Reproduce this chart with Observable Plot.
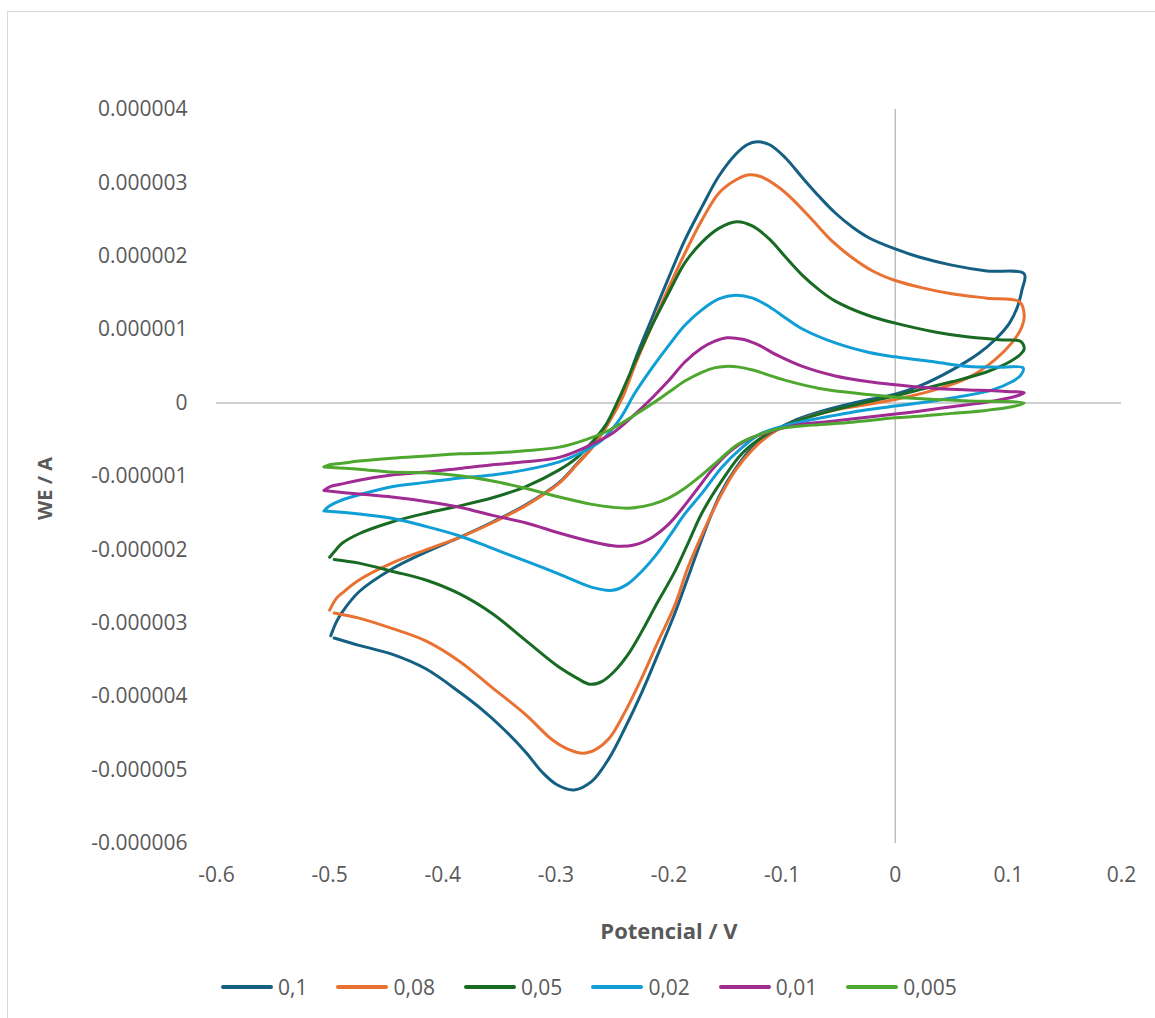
<!DOCTYPE html>
<html><head><meta charset="utf-8">
<script src="https://cdn.jsdelivr.net/npm/d3@7"></script>
<script src="https://cdn.jsdelivr.net/npm/@observablehq/plot@0.6"></script>
<style>
body{margin:0;background:#fff;}
#wrap{position:relative;width:1155px;height:1018px;overflow:hidden;font-family:"Open Sans",sans-serif;background:#fff;}
#frame{position:absolute;left:7px;top:11px;width:1200px;height:1100px;border-left:1px solid #d9d9d9;border-top:1px solid #d9d9d9;}
#chart{position:absolute;left:0;top:0;}
#legend{position:absolute;top:974px;left:221px;display:flex;align-items:center;font-size:21px;color:#595959;height:26px;white-space:nowrap;}
.item{display:flex;align-items:center;margin-right:29px;}
.sw{display:inline-block;width:52px;height:4px;border-radius:2px;margin-right:5px;}
</style>
</head><body>
<div id="wrap"><div id="frame"></div><div id="chart"></div><div id="legend"></div></div>
<script>
// Scan-rate series (V/s) and colours
const seriesNames = ["0,1","0,08","0,05","0,02","0,01","0,005"];
const seriesColors = ["#156082","#E97132","#196B24","#0F9ED5","#A02B93","#4EA72E"];
const xTicks = [-0.6,-0.5,-0.4,-0.3,-0.2,-0.1,0,0.1,0.2];
const yTicks = [-6,-5,-4,-3,-2,-1,0,1,2,3,4]; // in microamps
const yTickLabels = ["-0.000006","-0.000005","-0.000004","-0.000003","-0.000002","-0.000001","0","0.000001","0.000002","0.000003","0.000004"];
const xTickLabels = ["-0.6","-0.5","-0.4","-0.3","-0.2","-0.1","0","0.1","0.2"];

// Each loop: [potential V, current µA]
const loop_0_1 = [[-0.499,-3.17],[-0.494,-2.98],[-0.489,-2.85],[-0.474,-2.57],[-0.445,-2.26],[-0.415,-2.03],[-0.385,-1.83],[-0.356,-1.62],[-0.327,-1.39],[-0.297,-1.08],[-0.281,-0.82],[-0.268,-0.60],[-0.255,-0.30],[-0.241,0.11],[-0.230,0.59],[-0.215,1.16],[-0.200,1.72],[-0.186,2.22],[-0.171,2.67],[-0.156,3.09],[-0.141,3.39],[-0.131,3.52],[-0.122,3.56],[-0.111,3.52],[-0.097,3.34],[-0.082,3.07],[-0.067,2.81],[-0.053,2.59],[-0.038,2.40],[-0.023,2.25],[0,2.10],[0.021,1.99],[0.050,1.88],[0.081,1.80],[0.114,1.76],[0.112,1.54],[0.108,1.31],[0.101,1.09],[0.088,0.86],[0.074,0.68],[0.050,0.45],[0.021,0.23],[0,0.12],[-0.029,0.03],[-0.058,-0.08],[-0.088,-0.23],[-0.109,-0.40],[-0.126,-0.60],[-0.141,-0.89],[-0.155,-1.25],[-0.168,-1.73],[-0.181,-2.28],[-0.195,-2.87],[-0.210,-3.43],[-0.224,-3.94],[-0.239,-4.43],[-0.253,-4.84],[-0.268,-5.15],[-0.284,-5.27],[-0.299,-5.20],[-0.312,-5.03],[-0.327,-4.75],[-0.347,-4.43],[-0.365,-4.18],[-0.385,-3.94],[-0.415,-3.62],[-0.445,-3.42],[-0.474,-3.30],[-0.496,-3.20]];
const loop_0_08 = [[-0.500,-2.82],[-0.494,-2.66],[-0.489,-2.59],[-0.474,-2.41],[-0.445,-2.18],[-0.415,-2.00],[-0.385,-1.83],[-0.356,-1.63],[-0.327,-1.40],[-0.297,-1.09],[-0.281,-0.83],[-0.268,-0.61],[-0.255,-0.31],[-0.241,0.08],[-0.230,0.52],[-0.215,1.06],[-0.200,1.58],[-0.186,2.04],[-0.171,2.49],[-0.156,2.86],[-0.141,3.04],[-0.129,3.11],[-0.118,3.08],[-0.104,2.95],[-0.091,2.78],[-0.073,2.49],[-0.056,2.21],[-0.038,1.98],[-0.020,1.80],[0,1.67],[0.024,1.57],[0.050,1.49],[0.081,1.43],[0.110,1.38],[0.114,1.20],[0.112,1.04],[0.103,0.82],[0.088,0.59],[0.065,0.35],[0.035,0.18],[0,0.05],[-0.029,-0.03],[-0.058,-0.11],[-0.088,-0.25],[-0.109,-0.41],[-0.126,-0.63],[-0.141,-0.91],[-0.155,-1.28],[-0.169,-1.73],[-0.183,-2.23],[-0.195,-2.76],[-0.210,-3.26],[-0.224,-3.74],[-0.239,-4.21],[-0.253,-4.57],[-0.265,-4.72],[-0.276,-4.77],[-0.290,-4.71],[-0.303,-4.59],[-0.327,-4.24],[-0.356,-3.88],[-0.385,-3.52],[-0.415,-3.24],[-0.445,-3.07],[-0.474,-2.93],[-0.496,-2.86]];
const loop_0_05 = [[-0.500,-2.10],[-0.494,-1.99],[-0.489,-1.91],[-0.474,-1.78],[-0.445,-1.62],[-0.415,-1.50],[-0.385,-1.40],[-0.356,-1.29],[-0.327,-1.14],[-0.297,-0.91],[-0.281,-0.74],[-0.268,-0.53],[-0.256,-0.30],[-0.244,0.07],[-0.230,0.56],[-0.215,1.06],[-0.200,1.51],[-0.186,1.91],[-0.171,2.19],[-0.156,2.38],[-0.140,2.47],[-0.126,2.41],[-0.111,2.23],[-0.097,1.99],[-0.082,1.74],[-0.067,1.54],[-0.053,1.39],[-0.023,1.19],[0,1.09],[0.035,0.97],[0.065,0.90],[0.095,0.86],[0.111,0.84],[0.114,0.74],[0.111,0.67],[0.102,0.57],[0.080,0.42],[0.050,0.29],[0.021,0.18],[0,0.10],[-0.029,0.00],[-0.058,-0.11],[-0.088,-0.25],[-0.113,-0.42],[-0.135,-0.68],[-0.153,-1.05],[-0.171,-1.50],[-0.182,-1.87],[-0.195,-2.30],[-0.210,-2.71],[-0.224,-3.11],[-0.236,-3.42],[-0.248,-3.65],[-0.259,-3.79],[-0.270,-3.83],[-0.281,-3.75],[-0.297,-3.60],[-0.327,-3.23],[-0.356,-2.87],[-0.385,-2.60],[-0.415,-2.41],[-0.445,-2.29],[-0.474,-2.18],[-0.496,-2.13]];
const loop_0_02 = [[-0.505,-1.47],[-0.500,-1.40],[-0.489,-1.32],[-0.474,-1.25],[-0.445,-1.14],[-0.415,-1.08],[-0.385,-1.02],[-0.356,-0.98],[-0.327,-0.91],[-0.297,-0.80],[-0.277,-0.67],[-0.259,-0.50],[-0.244,-0.23],[-0.230,0.14],[-0.215,0.48],[-0.200,0.79],[-0.186,1.06],[-0.171,1.27],[-0.156,1.42],[-0.141,1.47],[-0.126,1.43],[-0.111,1.31],[-0.097,1.16],[-0.082,1.01],[-0.053,0.82],[-0.023,0.69],[0,0.63],[0.035,0.56],[0.065,0.50],[0.095,0.49],[0.113,0.48],[0.111,0.38],[0.103,0.29],[0.086,0.18],[0.050,0.07],[0.021,0],[0,-0.04],[-0.029,-0.10],[-0.058,-0.18],[-0.088,-0.27],[-0.118,-0.41],[-0.135,-0.60],[-0.153,-0.87],[-0.171,-1.23],[-0.186,-1.51],[-0.199,-1.80],[-0.210,-2.04],[-0.224,-2.29],[-0.237,-2.47],[-0.250,-2.55],[-0.268,-2.51],[-0.297,-2.33],[-0.327,-2.15],[-0.356,-1.98],[-0.385,-1.81],[-0.415,-1.68],[-0.445,-1.57],[-0.474,-1.51],[-0.505,-1.47]];
const loop_0_01 = [[-0.505,-1.19],[-0.500,-1.14],[-0.489,-1.10],[-0.474,-1.05],[-0.445,-0.98],[-0.415,-0.94],[-0.385,-0.89],[-0.356,-0.84],[-0.327,-0.80],[-0.297,-0.74],[-0.272,-0.59],[-0.250,-0.41],[-0.230,-0.15],[-0.215,0.07],[-0.200,0.31],[-0.186,0.56],[-0.171,0.75],[-0.160,0.84],[-0.149,0.89],[-0.135,0.87],[-0.122,0.80],[-0.104,0.65],[-0.082,0.50],[-0.053,0.37],[-0.023,0.29],[0,0.25],[0.035,0.20],[0.065,0.18],[0.095,0.16],[0.114,0.14],[0.108,0.10],[0.080,0.01],[0.050,-0.05],[0.021,-0.11],[0,-0.15],[-0.029,-0.20],[-0.058,-0.25],[-0.088,-0.30],[-0.113,-0.40],[-0.131,-0.50],[-0.147,-0.67],[-0.162,-0.91],[-0.175,-1.17],[-0.188,-1.43],[-0.201,-1.66],[-0.215,-1.83],[-0.230,-1.93],[-0.246,-1.95],[-0.268,-1.89],[-0.297,-1.77],[-0.327,-1.63],[-0.356,-1.53],[-0.385,-1.42],[-0.415,-1.34],[-0.445,-1.28],[-0.474,-1.24],[-0.505,-1.19]];
const loop_0_005 = [[-0.505,-0.87],[-0.500,-0.84],[-0.489,-0.82],[-0.474,-0.79],[-0.445,-0.75],[-0.415,-0.72],[-0.385,-0.69],[-0.356,-0.68],[-0.327,-0.65],[-0.297,-0.60],[-0.274,-0.50],[-0.253,-0.37],[-0.230,-0.16],[-0.215,-0.01],[-0.200,0.15],[-0.186,0.30],[-0.171,0.42],[-0.160,0.48],[-0.150,0.50],[-0.138,0.49],[-0.126,0.45],[-0.097,0.31],[-0.067,0.20],[-0.038,0.14],[0,0.08],[0.035,0.05],[0.065,0.03],[0.114,0.00],[0.103,-0.05],[0.080,-0.10],[0.050,-0.14],[0.021,-0.18],[0,-0.20],[-0.038,-0.26],[-0.073,-0.30],[-0.103,-0.35],[-0.122,-0.44],[-0.140,-0.57],[-0.156,-0.78],[-0.171,-0.98],[-0.186,-1.16],[-0.200,-1.29],[-0.215,-1.38],[-0.233,-1.43],[-0.250,-1.42],[-0.268,-1.38],[-0.297,-1.28],[-0.327,-1.16],[-0.356,-1.06],[-0.385,-0.99],[-0.415,-0.95],[-0.445,-0.94],[-0.474,-0.90],[-0.505,-0.87]];

const loops = [loop_0_1, loop_0_08, loop_0_05, loop_0_02, loop_0_01, loop_0_005];
const data = loops.flatMap((pts, k) => pts.map(([v, i]) => ({s: seriesNames[k], v, i})));

const FONT = "'Open Sans', sans-serif";
const chart = Plot.plot({
  width: 1155, height: 950,
  marginLeft: 216, marginRight: 34, marginTop: 109, marginBottom: 107,
  style: {fontFamily: FONT, fontSize: "21px", color: "#595959", background: "transparent", overflow: "visible"},
  x: {domain: [-0.6, 0.2]},
  y: {domain: [-6, 4]},
  color: {domain: seriesNames, range: seriesColors},
  marks: [
    Plot.ruleY([0], {stroke: "#bfbfbf", strokeWidth: 1.5}),
    Plot.ruleX([0], {stroke: "#bfbfbf", strokeWidth: 1.5}),
    Plot.axisX({ticks: xTicks, tickSize: 0, tickPadding: 24, tickFormat: (d) => xTickLabels[xTicks.findIndex(t => Math.abs(t - d) < 1e-9)], label: null}),
    Plot.axisY({ticks: yTicks, tickSize: 0, tickPadding: 29, tickFormat: (d) => yTickLabels[yTicks.indexOf(d)], label: null}),
    Plot.line(data, {x: "v", y: "i", z: "s", stroke: "s", strokeWidth: 3, curve: "catmull-rom", strokeLinejoin: "round", strokeLinecap: "round"}),
    Plot.text(["Potencial / V"], {text: d => d, frameAnchor: "bottom", dy: 88, textAnchor: "middle", lineAnchor: "middle", fontWeight: "bold", fontSize: 22, fill: "#595959"}),
    Plot.text(["WE / A"], {text: d => d, frameAnchor: "left", dx: -171, dy: 12, rotate: -90, textAnchor: "middle", lineAnchor: "middle", fontWeight: "bold", fontSize: 20, fill: "#595959"})
  ]
});
document.getElementById("chart").appendChild(chart);

const legend = document.getElementById("legend");
seriesNames.forEach((n, k) => {
  const it = document.createElement("div");
  it.className = "item";
  const sw = document.createElement("span");
  sw.className = "sw";
  sw.style.background = seriesColors[k];
  const tx = document.createElement("span");
  tx.textContent = n;
  it.appendChild(sw); it.appendChild(tx);
  legend.appendChild(it);
});
</script>
</body></html>
